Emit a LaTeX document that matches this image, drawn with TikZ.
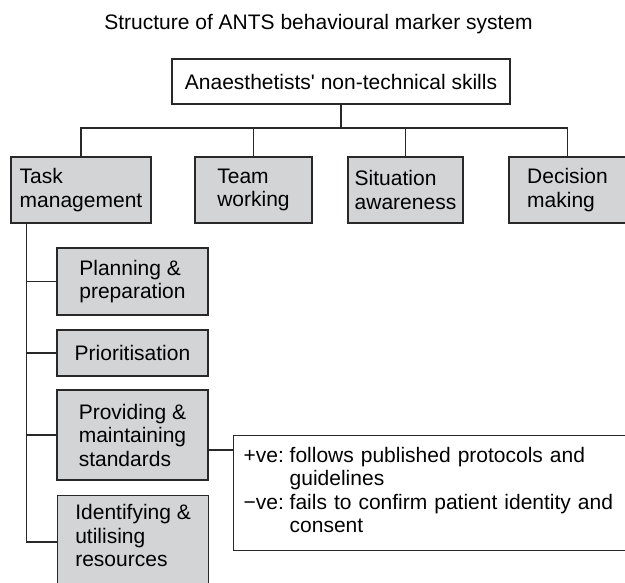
\documentclass[tikz,border=0pt]{standalone}
\usepackage{fontspec}
\setmainfont{Liberation Sans}[Ligatures=TeXOff]
\usetikzlibrary{calc}
\definecolor{boxgray}{RGB}{211,212,214}
\definecolor{ink}{RGB}{40,40,40}
\begin{document}
\begin{tikzpicture}[x=1pt,y=-1pt,
  every node/.style={font=\fontsize{21}{23.5}\selectfont, text=black},
  plainbox/.style={draw=ink, line width=1.2pt, fill=white, inner sep=0pt},
  catbox/.style={draw=ink, line width=1.2pt, fill=boxgray, align=left, minimum height=66pt, inner sep=0pt},
  subbox/.style={draw=ink, line width=1.2pt, fill=boxgray, align=left, minimum width=151pt, inner sep=0pt},
  link/.style={draw=ink, line width=1.2pt}]
\useasboundingbox (0,0) rectangle (625,583);
\node[anchor=base] (title) at (318.5,30) {Structure of ANTS behavioural marker system};
\node[plainbox, minimum width=338pt, minimum height=45pt] (root) at (341,81.5) {Anaesthetists' non-technical skills};
\node[catbox, minimum width=140pt] (task) at (81,190) {Task\\management};
\node[catbox, minimum width=117pt] (team) at (253.5,190) {Team\\working};
\node[catbox, minimum width=115pt] (sit) at (405.5,190) {Situation\\awareness};
\node[catbox, minimum width=117pt] (dec) at (567.5,190) {Decision\\making};
\node[subbox, minimum height=67pt] (plan) at (132.5,281.5) {Planning \&\\preparation};
\node[subbox, minimum height=46pt] (prio) at (132.5,353) {Prioritisation};
\node[subbox, minimum height=90pt] (prov) at (132.5,435) {Providing \&\\maintaining\\standards};
\node[subbox, anchor=north west, inner ysep=9pt, text depth=80pt] (idf) at (57,495) {Identifying \&\\utilising\\resources};
\node[plainbox, anchor=north west, minimum height=115pt, text width=400pt, inner xsep=10pt, align=left] (ex) at (233,434.5)
  {\begin{tabular}{@{}l@{\hspace{5.84pt}}l@{}}+ve: & follows published protocols and\\ & guidelines\\ −ve: & fails to confirm patient identity and\\ & consent\end{tabular}};
\coordinate (busy) at (0,128);
\draw[link] (root.south) -- (root.south |- busy);
\draw[link] (task.north) |- (busy -| dec.north) -- (dec.north);
\draw[link] (team.north) -- (team.north |- busy);
\draw[link] (sit.north) -- (sit.north |- busy);
\coordinate (sp) at ($(task.south west)+(16,0)$);
\coordinate (ib) at ($(idf.north west)+(0,47)$);
\draw[link] (sp) |- (ib);
\draw[link] (sp |- plan.west) -- (plan.west);
\draw[link] (sp |- prio.west) -- (prio.west);
\draw[link] (sp |- prov.west) -- (prov.west);
\draw[link] ([yshift=-15pt]prov.east) coordinate (pe) -- (pe -| ex.west);
\end{tikzpicture}
\end{document}
